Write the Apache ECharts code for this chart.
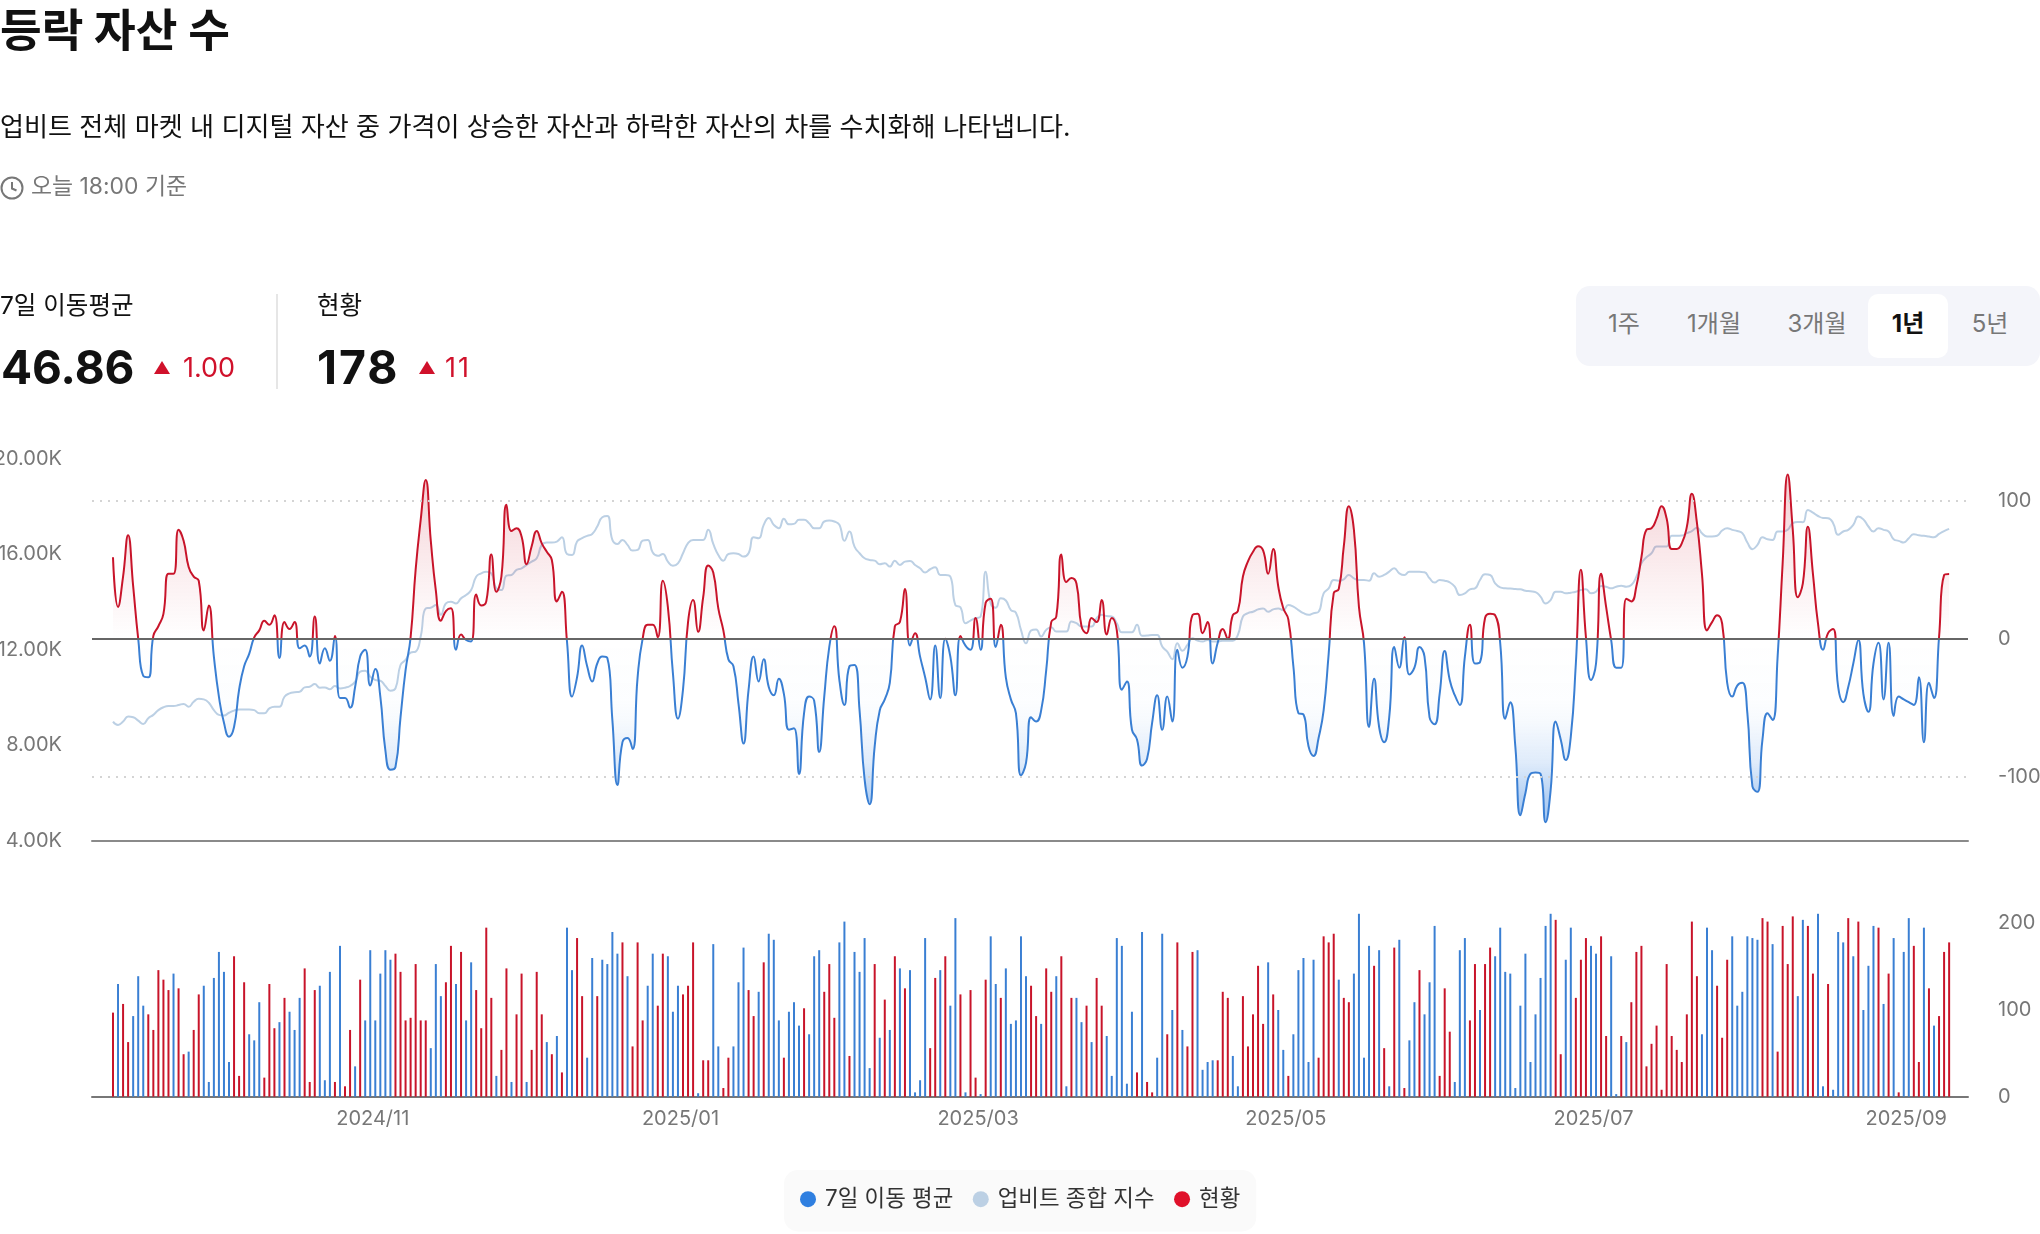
<!DOCTYPE html>
<html lang="ko"><head><meta charset="utf-8"><title>등락 자산 수</title>
<script src="https://cdn.jsdelivr.net/npm/echarts@6/dist/echarts.min.js"></script>
<style>
html,body{margin:0;padding:0;background:#fff;width:2040px;height:1234px;overflow:hidden;font-family:Inter,"Noto Sans CJK KR",sans-serif;}
#chart{position:absolute;left:0;top:0;width:2040px;height:1234px;}
.t{position:absolute;white-space:nowrap;transform:translateY(-50%);line-height:1;z-index:2;}
.tri{position:absolute;width:16px;height:13px;background:#d0112b;clip-path:polygon(50% 0,100% 100%,0 100%);z-index:2;}
#pill{position:absolute;left:1576px;top:286px;width:464px;height:80px;background:#f4f5fa;border-radius:14px;}
#act{position:absolute;left:1868px;top:294px;width:80px;height:64px;background:#fff;border-radius:10px;}
.b{font-size:24px;color:#777;transform:translate(-50%,-50%);}
</style></head><body>
<div id="chart"></div>
<div class="t" style="left:0;top:31px;font-size:45.3px;font-weight:700;color:#111">등락 자산 수</div>
<div class="t" style="left:0;top:127px;font-size:26.1px;color:#111">업비트 전체 마켓 내 디지털 자산 중 가격이 상승한 자산과 하락한 자산의 차를 수치화해 나타냅니다.</div>
<svg style="position:absolute;left:0;top:175px;z-index:2" width="25" height="25" viewBox="0 0 25 25"><circle cx="12" cy="13" r="10.5" fill="none" stroke="#777" stroke-width="2"/><path d="M12 7v6.5l4.5 2" fill="none" stroke="#777" stroke-width="2"/></svg>
<div class="t" style="left:31px;top:186px;font-size:22.9px;color:#777">오늘 18:00 기준</div>
<div class="t" style="left:0;top:305px;font-size:24.5px;color:#111">7일 이동평균</div>
<div class="t" style="left:1px;top:367px;font-size:46px;font-weight:700;color:#111">46.86</div>
<div class="tri" style="left:154px;top:361px"></div>
<div class="t" style="left:183px;top:367px;font-size:27px;color:#d0112b">1.00</div>
<div style="position:absolute;left:276px;top:294px;width:2px;height:95px;background:#e6e6e6"></div>
<div class="t" style="left:317px;top:305px;font-size:24.5px;color:#111">현황</div>
<div class="t" style="left:317px;top:367px;font-size:46.4px;font-weight:700;color:#111;letter-spacing:2px">178</div>
<div class="tri" style="left:419px;top:361px"></div>
<div class="t" style="left:445px;top:367px;font-size:27px;color:#d0112b;letter-spacing:2px">11</div>
<div id="pill"></div><div id="act"></div>
<div class="t b" style="left:1624px;top:324px">1주</div>
<div class="t b" style="left:1714px;top:324px">1개월</div>
<div class="t b" style="left:1817px;top:324px">3개월</div>
<div class="t b" style="left:1908px;top:324px;color:#111;font-weight:700">1년</div>
<div class="t b" style="left:1990px;top:324px">5년</div>
<script>
const startDate = '2024-09-11';
const monthTicks = ['2024-11-01','2025-01-01','2025-03-01','2025-05-01','2025-07-01','2025-09-01'];
const leftTicks = [4000, 8000, 12000, 16000, 20000];
const rightTicks = [-100, 0, 100];
const barTicks = [0, 100, 200];
const seriesNames = ['7일 이동 평균', '업비트 종합 지수', '현황'];

// 7-day moving average, one value per day
const avgValues = [
59,23,45,75,38,0,-27,-28,2,9,18,47,47,79,71,52,45,42,6,24,
-13,-42,-61,-71,-64,-37,-20,-11,1,6,13,10,17,-14,12,7,12,-7,-5,-13,
16,-18,-7,-16,2,-43,-43,-50,-35,-13,-8,-34,-22,-42,-81,-95,-93,-57,-23,1,
50,86,115,71,35,13,20,22,-8,3,-1,-2,32,24,27,61,34,45,97,78,
80,74,54,67,78,69,63,57,27,34,-2,-42,-28,-5,-20,-31,-18,-13,-14,-59,
-106,-75,-72,-80,-28,0,10,10,1,42,23,-25,-58,-37,12,28,5,30,53,48,
22,6,-15,-20,-47,-76,-37,-13,-31,-15,-35,-41,-29,-40,-66,-65,-98,-54,-42,-45,
-82,-42,-6,9,-30,-48,-20,-19,-52,-102,-120,-78,-52,-44,-32,9,12,36,-5,4,
-13,-28,-44,-5,-43,0,-13,-41,2,-5,-8,15,-8,26,29,-6,10,-28,-44,-54,
-99,-90,-57,-60,-52,-23,12,16,61,41,44,40,9,4,15,12,28,3,15,6,
-37,-31,-66,-73,-92,-87,-61,-41,-66,-42,-60,-8,-21,-13,17,18,4,12,-18,-3,
7,0,17,20,45,56,63,67,64,47,65,38,22,14,-20,-54,-55,-78,-85,-72,
-52,-11,33,36,67,96,79,23,-3,-64,-29,-64,-75,-57,-6,-21,1,-26,-21,-6,
-13,-57,-62,-40,-9,-30,-41,-48,-13,10,-18,-17,15,18,17,-3,-58,-46,-78,
-128,-112,-98,-97,-98,-133,-110,-60,-73,-88,-71,-18,50,1,-30,-18,47,23,-1,-21,
-21,29,27,38,59,79,80,87,96,87,65,65,69,81,105,84,47,6,12,17,
11,-32,-42,-34,-32,-54,-107,-111,-73,-54,-59,-13,55,119,79,30,40,81,47,11,
-8,4,7,-35,-46,-35,-18,-1,-40,-53,-18,-3,-44,-3,-56,-42,-44,-46,-48,-28,
-75,-32,-43,1,46,46.86];

// Upbit composite index, one value per day
const indexValues = [
8990,8850,8990,9200,9170,9030,8890,9130,9270,9470,9590,9640,9640,9680,9730,9610,9820,9950,9920,9780,
9470,9270,9240,9360,9450,9500,9500,9500,9470,9340,9340,9540,9610,9610,10030,10170,10220,10240,10420,10450,
10560,10410,10420,10340,10480,10380,10410,10480,10660,11080,11120,10870,10730,10700,10480,10280,10380,11360,11570,11880,
11920,12550,13730,13760,13870,13460,13940,14010,13940,14150,14290,14500,15060,15200,15270,15200,14570,14500,15100,15130,
15340,15410,15550,15690,15830,16390,16490,16490,16530,16710,16010,15970,16530,16670,16770,16850,17160,17550,17600,16600,
16430,16600,16390,16150,16180,16570,16600,16070,15930,16010,15690,15520,15620,16040,16460,16600,16600,
16600,17020,16430,15970,15730,16010,16040,16010,15900,16040,16710,16670,17230,17520,17230,17090,17490,17250,17270,17440,17440,17300,17090,
17090,17370,17410,17370,17230,16560,16950,16320,16040,15830,15760,15730,15580,15620,15480,15730,15550,15690,15720,15550,
15410,15230,15370,15450,15130,15130,15060,13870,13780,13110,13220,13320,13390,15270,13940,13760,14150,14060,13660,13550,
12830,12270,12800,12850,12550,12830,12940,12760,12760,12760,13180,13110,12970,12970,12970,13320,13460,13410,13390,13110,
12730,12730,12730,13040,12580,12590,12620,12620,12130,11920,11600,12270,11960,12200,12480,12380,12340,12410,12340,12340,
12380,12380,12380,12620,13390,13530,13590,13690,13730,13590,13690,13730,13660,13870,13800,13660,13530,13460,13530,13590,
14360,14570,14920,14890,14950,15130,14990,14920,14920,14890,15200,15060,15130,15270,15410,15200,15130,15270,15270,15260,
15240,14990,14810,14920,14890,14820,14640,14290,14360,14530,14570,14920,15160,15130,14780,14610,14570,14560,14540,
14530,14470,14450,14410,14220,13940,14080,14430,14430,14360,14390,14430,14500,14530,14360,14430,14670,14640,14570,14640,
14680,14640,14710,15060,15620,15870,16040,16320,16320,16320,16770,16770,16780,16880,16970,17110,16880,16740,16740,16770,
16990,17090,17020,16970,16880,16490,16210,16390,16710,16630,16600,16950,16950,17020,17300,17350,17340,17850,17740,17600,
17520,17510,17300,16810,16950,17020,17230,17580,17460,17160,16950,17090,17020,16950,16630,16560,16490,16670,16840,16790,
16770,16740,16710,16850,16970,17060];

// Daily count: positive = red (rising), negative = blue (falling); the bar height is the magnitude
const barValues = [
97,-130,107,63,-93,-139,-105,95,77,146,135,123,-142,125,49,-52,77,118,-128,-17,
-137,-167,-144,-40,162,24,132,-72,-65,-109,22,130,79,-86,114,-98,-77,-114,148,17,
123,-128,-19,-144,17,-174,12,77,-35,135,-88,-169,-88,-142,-169,-158,165,144,88,91,
153,88,88,-56,-153,-116,132,174,-130,167,-88,-155,123,79,195,114,-24,54,148,-17,
95,142,-17,54,144,95,-63,49,-70,28,-195,-146,183,116,-45,-160,116,-158,-153,-190,
-165,178,-139,58,178,88,-128,-165,105,165,-162,-98,-128,118,128,178,-4,
42,42,-176,-58,10,45,-58,-132,-172,123,93,-121,155,-188,-181,-88,45,-98,-109,-82,
102,-72,-162,-169,121,153,91,-178,-202,47,-167,-144,-183,-33,153,-68,112,-77,162,-148,
125,-146,-5,-19,-183,56,137,-146,162,-105,-206,118,-5,123,22,-3,135,-185,-130,114,
-148,-84,-88,-185,-139,128,93,-84,148,121,-139,162,-12,114,-114,-86,105,-63,137,105,
-70,-24,-183,-174,-15,-98,28,-190,17,5,-45,-188,72,-100,178,-77,58,167,-169,-31,
-40,-42,42,121,114,-47,-12,116,58,95,151,84,-155,118,-100,-54,24,-72,-146,-160,
-40,-158,45,185,178,188,-135,114,109,-142,-211,-45,-174,151,-169,
56,-12,172,-181,10,-65,-109,146,-95,-132,-197,24,125,75,-17,-169,-183,88,153,-100,
153,172,-162,-195,-144,-142,-10,-105,-165,-40,-95,-137,-197,-211,204,49,-158,-195,114,158,
183,-174,-165,185,70,-162,-3,70,-63,109,167,174,35,61,82,8,153,70,54,40,
95,202,139,-72,-195,-169,128,68,158,-185,-105,-121,-185,-183,-181,206,202,-176,52,197,
153,208,-116,-204,197,142,-211,-12,130,-8,-190,-178,206,-162,202,-100,-151,-197,195,-107,
142,-183,5,-167,-206,174,40,-195,125,-82,93,167,178];

const DAY = 86400000;
const start = new Date(startDate + 'T00:00:00').getTime();
const dates = barValues.map((_, i) => start + i * DAY);
const RED = '#c8142a', BLUE = '#3a7fd3';
const avgMax = Math.max(...avgValues), avgMin = Math.min(...avgValues);
const span = avgMax - avgMin;
const at = v => (avgMax - v) / span;
const xMin = start - 4.16 * DAY, xMax = xMin + 371.9 * DAY;

const xBase = {type:'value', min:xMin, max:xMax, splitLine:{show:false}, axisTick:{show:false}};
const chart = echarts.init(document.getElementById('chart'), null, {renderer:'canvas'});
chart.setOption({
  animation:false,
  grid:[
    {left:92, top:458.7, width:1876, height:382, outerBoundsMode:'none'},
    {left:92, top:900, width:1876, height:196.7, outerBoundsMode:'none'}
  ],
  xAxis:[
    Object.assign({}, xBase, {gridIndex:0, axisLabel:{show:false}, axisLine:{show:true, onZero:false, lineStyle:{color:'#8a8a8a', width:2}}}),
    Object.assign({}, xBase, {gridIndex:1, axisLine:{show:true, onZero:false, lineStyle:{color:'#777', width:2}},
      axisLabel:{show:true, customValues:monthTicks.map(d => new Date(d + 'T12:00:00').getTime()), color:'#777', fontSize:20, fontFamily:'Inter, "Noto Sans CJK KR"', margin:12,
        formatter:v => { const d = new Date(v); return d.getFullYear() + '/' + String(d.getMonth()+1).padStart(2,'0'); }}})
  ],
  yAxis:[
    {type:'value', gridIndex:0, position:'left', min:4000, max:20000, interval:4000, splitLine:{show:false}, axisLine:{show:false}, axisTick:{show:false},
      axisLabel:{color:'#777', fontSize:20, fontFamily:'Inter', margin:30, padding:[2,0,0,0], customValues:leftTicks, formatter:v => (v/1000).toFixed(2) + 'K'}},
    {type:'value', gridIndex:0, position:'right', min:-146.4, max:130.4, splitLine:{show:false}, axisLine:{show:false}, axisTick:{show:false},
      axisLabel:{color:'#777', fontSize:20, fontFamily:'Inter', margin:30, padding:[2,0,0,0], customValues:rightTicks}},
    {type:'value', gridIndex:1, position:'right', min:0, max:226.9, splitLine:{show:false}, axisLine:{show:false}, axisTick:{show:false},
      axisLabel:{color:'#777', fontSize:20, fontFamily:'Inter', margin:30, customValues:barTicks}}
  ],
  visualMap:[{show:false, type:'piecewise', seriesIndex:1, dimension:1,
    pieces:[{gt:0, lte:1000, color:RED},{gte:-1000, lte:0, color:BLUE}]}],
  legend:{left:784, top:1170, padding:[18,16,21,16], itemWidth:16, itemHeight:16, itemGap:19.5, icon:'circle', backgroundColor:'#fafafa', borderRadius:14,
    data:seriesNames, selectedMode:false, textStyle:{fontSize:22.4, color:'#333', fontFamily:'Inter, "Noto Sans CJK KR"', padding:[0,0,0,4]}},
  series:[
    {name:seriesNames[1], type:'line', xAxisIndex:0, yAxisIndex:0, showSymbol:false, smooth:true, z:2,
      data:indexValues.map((v,i) => [dates[i], v]), lineStyle:{width:2, color:'#bcd0e4'}, itemStyle:{color:'#bcd0e4'}},
    {name:seriesNames[0], type:'line', xAxisIndex:0, yAxisIndex:1, showSymbol:false, smooth:true, z:3,
      data:avgValues.map((v,i) => [dates[i], v]), lineStyle:{width:2}, itemStyle:{color:'#2f7fe0'},
      areaStyle:{origin:0, color:new echarts.graphic.LinearGradient(0,0,0,1,[
        {offset:at(avgMax), color:'rgba(200,20,42,0.32)'},
        {offset:at(79), color:'rgba(200,20,42,0.18)'},
        {offset:at(43), color:'rgba(200,20,42,0.09)'},
        {offset:at(0), color:'rgba(200,20,42,0)'},
        {offset:at(0), color:'rgba(47,127,224,0)'},
        {offset:at(-45), color:'rgba(47,127,224,0.02)'},
        {offset:at(-60), color:'rgba(47,127,224,0.06)'},
        {offset:at(-90), color:'rgba(47,127,224,0.22)'},
        {offset:at(-114), color:'rgba(47,127,224,0.5)'},
        {offset:at(avgMin), color:'rgba(47,127,224,0.65)'}])},
      markLine:{silent:true, symbol:'none', label:{show:false}, z:5, animation:false, data:[
        {yAxis:0, lineStyle:{color:'#666', width:2, type:'solid'}},
        {yAxis:100, lineStyle:{color:'#d4d4d4', width:2, type:[2,6]}},
        {yAxis:-100, lineStyle:{color:'#d4d4d4', width:2, type:[2,6]}}]}},
    {name:seriesNames[2], type:'bar', xAxisIndex:1, yAxisIndex:2, barWidth:2, itemStyle:{color:'#e0102a'},
      data:barValues.map((v,i) => ({value:[dates[i], Math.abs(v)], itemStyle:{color:v>=0?RED:BLUE}}))}
  ]
});
</script>
</body></html>
